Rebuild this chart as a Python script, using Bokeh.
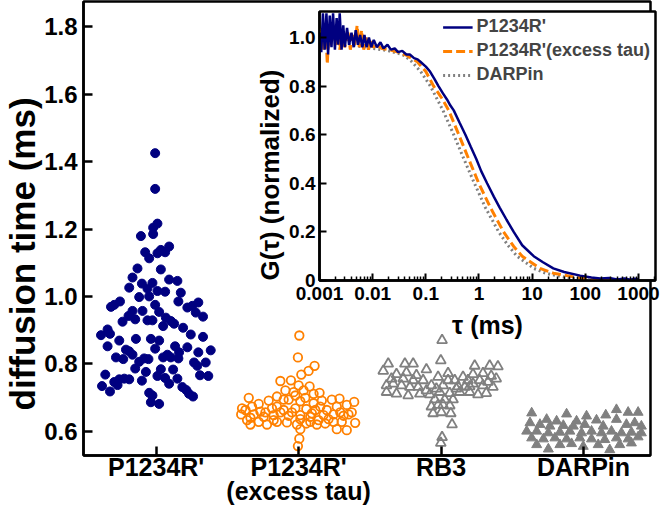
from bokeh.plotting import figure
from bokeh.models import (Range1d, FixedTicker, NumeralTickFormatter, CustomJSTickFormatter,
                          Legend, LegendItem, LinearAxis, Title)
from bokeh.embed import file_html
from bokeh.resources import INLINE

FONT = "Liberation Sans"
NAVY = "#000080"
ORANGE = "#ff8000"
GRAY = "#808080"

# ---------------- main chart data ----------------
categories = ["P1234R'", "P1234R'", "RB3", "DARPin"]
category_notes = ["", "(excess tau)", "", ""]

p1234_offset = [-0.007, -0.007, 0.009, -0.021, -0.021, -0.107, -0.077, -0.049, 0.009, 0.033, 0.063, 0.091,
                -0.131, 0.033, -0.166, 0.091, 0.149, -0.100, -0.026, -0.189, -0.061, 0.009, 0.063, 0.173,
                -0.119, -0.049, 0.156, 0.296, -0.254, -0.294, -0.317, -0.007, 0.219, 0.254, -0.166, -0.096,
                0.021, 0.278, 0.329, -0.194, -0.147, -0.061, -0.026, -0.236, 0.068, 0.103, 0.126, 0.049,
                0.189, -0.341, -0.387, -0.324, 0.243, 0.329, -0.259, -0.142, -0.037, 0.021, -0.341, 0.133,
                0.219, -0.007, -0.189, 0.383, -0.212, 0.161, 0.296, -0.166, 0.079, 0.049, 0.103, -0.282,
                -0.231, -0.084, -0.054, -0.119, 0.156, 0.266, 0.348, -0.147, -0.072, 0.033, 0.119, 0.289,
                0.308, 0.366, -0.357, 0.009, 0.063, 0.149, -0.259, -0.224, -0.189, -0.100, -0.294, 0.091,
                -0.380, -0.271, 0.184, -0.324, 0.212, -0.049, 0.231, 0.259, -0.026, -0.037, 0.021]
p1234_time = [1.425, 1.319, 1.216, 1.204, 1.185, 1.179, 1.131, 1.113, 1.128, 1.138, 1.131, 1.148,
              1.083, 1.080, 1.056, 1.050, 1.046, 1.038, 1.040, 1.026, 1.023, 1.016, 1.014, 1.011,
              0.998, 1.000, 0.985, 0.982, 0.985, 0.975, 0.969, 0.975, 0.967, 0.972, 0.957, 0.957,
              0.954, 0.952, 0.940, 0.942, 0.932, 0.929, 0.929, 0.925, 0.937, 0.927, 0.919, 0.912,
              0.907, 0.902, 0.885, 0.889, 0.887, 0.880, 0.869, 0.874, 0.874, 0.869, 0.852, 0.852,
              0.849, 0.845, 0.837, 0.840, 0.842, 0.834, 0.834, 0.827, 0.827, 0.819, 0.819, 0.819,
              0.814, 0.816, 0.814, 0.806, 0.816, 0.804, 0.804, 0.786, 0.776, 0.784, 0.783, 0.794,
              0.766, 0.764, 0.768, 0.764, 0.758, 0.756, 0.754, 0.756, 0.754, 0.750, 0.746, 0.741,
              0.734, 0.737, 0.731, 0.718, 0.722, 0.714, 0.711, 0.703, 0.706, 0.686, 0.681]

excess_offset = [0.005, -0.005, 0.112, 0.070, 0.019, -0.128, -0.054, 0.000, 0.077, 0.147, -0.152, -0.093,
                 -0.035, 0.035, 0.105, -0.350, -0.210, -0.280, -0.070, 0.012, 0.163, 0.233, 0.287, 0.390,
                 -0.397, -0.327, -0.152, -0.105, -0.023, 0.054, 0.117, 0.198, 0.268, 0.338, -0.403, -0.315,
                 -0.233, -0.175, -0.070, 0.012, 0.082, 0.175, 0.245, 0.315, 0.373, -0.362, -0.280, -0.222,
                 -0.152, -0.082, -0.012, 0.054, 0.128, 0.187, 0.245, 0.303, 0.397, -0.338, 0.268, 0.338,
                 0.012, 0.005, -0.005, -0.105, -0.023, 0.047, 0.105, 0.152, -0.187, -0.268, -0.373, -0.128,
                 -0.047, 0.012, 0.093, 0.140, 0.210, 0.292, 0.350, -0.245, -0.338, -0.175, 0.082]
excess_time = [0.884, 0.819, 0.794, 0.779, 0.768, 0.749, 0.751, 0.736, 0.733, 0.714, 0.703, 0.721,
               0.716, 0.721, 0.711, 0.699, 0.691, 0.681, 0.694, 0.689, 0.691, 0.694, 0.697, 0.687,
               0.668, 0.673, 0.673, 0.663, 0.668, 0.666, 0.663, 0.663, 0.673, 0.678, 0.650, 0.650,
               0.656, 0.648, 0.646, 0.648, 0.643, 0.648, 0.650, 0.646, 0.656, 0.633, 0.628, 0.620,
               0.628, 0.626, 0.620, 0.623, 0.620, 0.623, 0.628, 0.628, 0.625, 0.620, 0.606, 0.603,
               0.606, 0.578, 0.556, 0.694, 0.706, 0.699, 0.683, 0.673, 0.668, 0.658, 0.663, 0.656,
               0.656, 0.636, 0.653, 0.633, 0.636, 0.656, 0.650, 0.643, 0.640, 0.633, 0.628]

rb3_offset = [0.007, -0.002, -0.371, -0.254, -0.196, -0.313, -0.243, -0.173, -0.103, -0.406, -0.348, 0.236,
              0.341, 0.399, 0.294, 0.224, 0.154, 0.352, 0.387, 0.049, -0.021, -0.126, 0.096, 0.189,
              0.271, 0.329, -0.383, -0.278, -0.219, -0.161, -0.068, 0.014, 0.119, 0.201, 0.294, 0.364,
              -0.383, -0.313, -0.231, -0.149, -0.079, -0.009, 0.061, 0.131, 0.201, 0.259, 0.317, -0.044,
              0.026, 0.084, -0.068, 0.014, 0.061, -0.056, 0.002, 0.068, 0.077, 0.007, -0.002, -0.103,
              -0.033, 0.107, 0.166, -0.196, -0.266, -0.336, 0.224, 0.049, -0.021]
rb3_time = [0.870, 0.810, 0.800, 0.800, 0.800, 0.769, 0.774, 0.766, 0.783, 0.779, 0.756, 0.794,
            0.794, 0.792, 0.772, 0.769, 0.761, 0.764, 0.756, 0.772, 0.761, 0.751, 0.751, 0.751,
            0.751, 0.746, 0.736, 0.736, 0.731, 0.731, 0.736, 0.736, 0.733, 0.733, 0.736, 0.731,
            0.716, 0.711, 0.706, 0.711, 0.709, 0.716, 0.713, 0.716, 0.716, 0.709, 0.713, 0.694,
            0.694, 0.694, 0.673, 0.678, 0.676, 0.653, 0.656, 0.653, 0.620, 0.582, 0.565, 0.721,
            0.726, 0.726, 0.731, 0.751, 0.756, 0.741, 0.741, 0.751, 0.678]

darpin_offset = [0.231, -0.364, -0.119, 0.021, 0.156, 0.313, 0.383, -0.259, -0.189, -0.049, 0.091, 0.231,
                 -0.376, -0.306, -0.236, -0.142, -0.072, 0.009, 0.138, 0.301, 0.359, 0.406, -0.399, -0.329,
                 -0.247, -0.166, -0.096, -0.014, 0.056, 0.126, 0.196, 0.266, 0.336, 0.406, -0.364, -0.282,
                 -0.201, -0.119, -0.026, 0.056, 0.149, 0.231, 0.313, 0.383, -0.329, -0.247, -0.166, -0.084,
                 -0.002, 0.103, 0.184, 0.254, 0.336]
darpin_time = [0.664, 0.654, 0.651, 0.645, 0.648, 0.656, 0.656, 0.635, 0.630, 0.630, 0.633, 0.635,
               0.625, 0.620, 0.615, 0.617, 0.615, 0.620, 0.615, 0.620, 0.625, 0.615, 0.600, 0.600,
               0.595, 0.597, 0.600, 0.595, 0.600, 0.595, 0.600, 0.595, 0.597, 0.595, 0.580, 0.577,
               0.580, 0.577, 0.580, 0.577, 0.575, 0.580, 0.577, 0.583, 0.560, 0.547, 0.560, 0.563,
               0.555, 0.560, 0.545, 0.560, 0.565]

# ---------------- inset data (tau in ms, normalized G) ----------------
tau_p1234 = [0.001, 0.00108, 0.00116, 0.00125, 0.00135, 0.00145, 0.00156, 0.00168, 0.0018, 0.00195,
             0.0021, 0.00225, 0.0024, 0.0026, 0.0028, 0.003, 0.0033, 0.0036, 0.004, 0.0044, 0.0048,
             0.0053, 0.0058, 0.0064, 0.007, 0.0077, 0.0085, 0.0094, 0.0105, 0.012, 0.014, 0.016,
             0.019, 0.022, 0.026, 0.03, 0.036, 0.043, 0.05, 0.06, 0.07, 0.079, 0.1, 0.12, 0.145,
             0.173, 0.21, 0.25, 0.29, 0.335, 0.43, 0.555, 0.7, 0.89, 1.1, 1.42, 1.9, 2.45, 3.3, 4.5,
             6.5, 10.7, 16, 25, 40, 80, 130, 190, 280, 400, 550, 700, 850, 1000]
g_p1234 = [1.02, 0.94, 1.10, 0.95, 1.10, 0.93, 1.09, 0.96, 1.10, 0.95,
           1.08, 0.97, 1.10, 0.95, 1.05, 0.96, 1.04, 0.97, 1.02, 0.96, 1.03,
           0.97, 1.01, 0.96, 1.01, 0.96, 1.00, 0.96, 0.99, 0.96, 0.98, 0.955,
           0.97, 0.95, 0.955, 0.94, 0.945, 0.93, 0.93, 0.915, 0.91, 0.90, 0.88, 0.86, 0.83,
           0.80, 0.77, 0.745, 0.72, 0.70, 0.65, 0.60, 0.55, 0.50, 0.45, 0.40, 0.345, 0.30, 0.25, 0.20,
           0.145, 0.10, 0.075, 0.05, 0.035, 0.02, 0.012, 0.008, 0.010, 0.004, 0.008, 0.003, 0.007, 0.005]

tau_excess = [0.001, 0.0011, 0.0012, 0.0013, 0.0014, 0.0015, 0.0016, 0.0018, 0.002, 0.0022, 0.0024,
              0.0027, 0.003, 0.0034, 0.0038, 0.0042, 0.0046, 0.0051, 0.0056, 0.0062, 0.0068, 0.0075,
              0.0083, 0.0092, 0.0102, 0.012, 0.015, 0.02, 0.03, 0.045, 0.069, 0.1, 0.14, 0.2, 0.27,
              0.417, 0.64, 0.99, 1.64, 2.9, 4.5, 6.5, 14, 25, 45, 80, 120, 200, 300, 500, 1000]
g_excess = [0.99, 1.04, 0.95, 1.06, 0.89, 1.03, 0.96, 1.05, 0.97, 1.04, 0.95,
            1.02, 0.96, 1.03, 0.95, 1.01, 0.97, 1.05, 0.96, 1.03, 0.95, 1.00,
            0.95, 0.99, 0.96, 0.97, 0.955, 0.95, 0.94, 0.925, 0.90, 0.86, 0.80, 0.75, 0.70,
            0.60, 0.50, 0.40, 0.30, 0.20, 0.14, 0.10, 0.05, 0.03, 0.02, 0.01, 0.006, 0.003, 0.002, 0.002, 0.001]

tau_darpin = [0.001, 0.0015, 0.002, 0.003, 0.004, 0.005, 0.007, 0.01, 0.015, 0.02, 0.03, 0.04, 0.055,
              0.08, 0.122, 0.16, 0.21, 0.335, 0.52, 0.82, 1.32, 2.35, 3.5, 5.2, 10.7, 18, 29, 50, 80,
              150, 300, 600, 1000]
g_darpin = [0.98, 0.99, 0.985, 0.975, 0.97, 0.965, 0.96, 0.955, 0.95, 0.945, 0.935, 0.925, 0.90,
            0.86, 0.80, 0.75, 0.70, 0.60, 0.50, 0.40, 0.30, 0.20, 0.145, 0.10, 0.05, 0.03, 0.02, 0.01, 0.005,
            0.002, 0.001, 0.0, 0.0]

y_ticks_main = [0.6, 0.8, 1.0, 1.2, 1.4, 1.6, 1.8]
inset_x_ticks = [0.001, 0.01, 0.1, 1, 10, 100, 1000]
inset_y_ticks = [0, 0.2, 0.4, 0.6, 0.8, 1.0]

# ---------------- main figure ----------------
p = figure(width=654, height=507, output_backend="svg", toolbar_location=None,
           x_range=Range1d(0.49, 4.47), y_range=Range1d(0.528, 1.875),
           min_border_left=81, min_border_right=4, min_border_top=1, min_border_bottom=50)
p.grid.visible = False
p.outline_line_color = "black"
p.outline_line_width = 2.5
p.outline_line_alpha = 1.0
p.background_fill_color = "white"
p.border_fill_color = "white"


def xs(idx, offsets):
    return [idx + 1 + o for o in offsets]


p.scatter(xs(0, p1234_offset), p1234_time, marker="circle", size=9,
          fill_color=NAVY, line_color=NAVY)
p.scatter(xs(1, excess_offset), excess_time, marker="circle", size=8.5,
          fill_color=None, line_color=ORANGE, line_width=1.8)
p.scatter(xs(2, rb3_offset), rb3_time, marker="triangle", size=10,
          fill_color=None, line_color=GRAY, line_width=1.8)
p.scatter(xs(3, darpin_offset), darpin_time, marker="triangle", size=10,
          fill_color=GRAY, line_color=GRAY)

xa = p.xaxis[0]
xa.ticker = FixedTicker(ticks=[1, 2, 3, 4], minor_ticks=[])
xa.major_label_overrides = {i + 1: c for i, c in enumerate(categories)}
xa.axis_label = None
xa.axis_label_standoff = 0
ya = p.yaxis[0]
ya.ticker = FixedTicker(ticks=y_ticks_main, minor_ticks=[])
ya.formatter = NumeralTickFormatter(format="0.0")
ya.axis_label = None
ya.axis_label_standoff = 0

note_ticks = [i + 1 for i, n in enumerate(category_notes) if n]
xa2 = LinearAxis(ticker=FixedTicker(ticks=note_ticks, minor_ticks=[]),
                 major_label_overrides={i + 1: n for i, n in enumerate(category_notes) if n},
                 axis_label=None, axis_label_standoff=0, axis_line_width=0,
                 axis_line_color=None, major_tick_line_color=None, minor_tick_line_color=None,
                 major_tick_in=0, major_tick_out=0, minor_tick_in=0, minor_tick_out=0)
p.add_layout(xa2, "below")

for ax in (xa, ya, xa2):
    ax.major_label_text_font = FONT
    ax.major_label_text_font_style = "bold"
    ax.major_label_text_color = "black"
for ax in (xa, ya):
    ax.axis_line_width = 2.5
    ax.axis_line_color = "black"
    ax.major_tick_line_width = 2.5
    ax.major_tick_in = 9
    ax.major_tick_out = 0
    ax.minor_tick_line_color = None

xa.major_label_text_font_size = "25px"
xa.major_label_standoff = -3
xa2.major_label_text_font_size = "25px"
xa2.major_label_standoff = -7
ya.major_label_text_font_size = "24px"
ya.major_label_standoff = 6

p.add_layout(Title(text="diffusion time (ms)", align="left", offset=45, standoff=0,
                   text_font=FONT, text_font_style="bold", text_font_size="35px",
                   text_color="black"), "left")

# ---------------- inset figure ----------------
inset = figure(width=415, height=334, output_backend="svg", toolbar_location=None,
               x_axis_type="log", x_range=Range1d(0.001, 2090), y_range=Range1d(0, 1.107),
               min_border_left=71, min_border_right=8, min_border_top=2, min_border_bottom=63,
               styles={"position": "absolute", "left": "248px", "top": "9px"})
inset.grid.visible = False
inset.outline_line_color = "black"
inset.outline_line_width = 2.5
inset.outline_line_alpha = 1.0
inset.background_fill_color = "white"
inset.border_fill_color = None

r_dar = inset.line(tau_darpin, g_darpin, line_color=GRAY, line_width=3, line_dash="2 3")
r_exc = inset.line(tau_excess, g_excess, line_color=ORANGE, line_width=3, line_dash="9 4")
r_p = inset.line(tau_p1234, g_p1234, line_color=NAVY, line_width=2.5)

ixa = inset.xaxis[0]
ixa.ticker = FixedTicker(ticks=inset_x_ticks,
                         minor_ticks=[k * 10.0 ** e for e in range(-3, 4) for k in range(2, 10)])
ixa.formatter = CustomJSTickFormatter(code="return String(Number(tick.toPrecision(1)));")
ixa.axis_label = "τ (ms)"
iya = inset.yaxis[0]
iya.ticker = FixedTicker(ticks=inset_y_ticks, minor_ticks=[])
iya.formatter = NumeralTickFormatter(format="0.0")
iya.major_label_overrides = {0: "0"}
iya.axis_label = None
iya.axis_label_standoff = 0

for ax in (ixa, iya):
    ax.axis_line_width = 2.5
    ax.major_tick_line_width = 2
    ax.major_tick_in = 7
    ax.major_tick_out = 0
    ax.minor_tick_line_width = 1.5
    ax.minor_tick_in = 4
    ax.minor_tick_out = 0
    ax.major_label_text_font = FONT
    ax.major_label_text_font_style = "bold"
    ax.major_label_text_font_size = "19px"
    ax.major_label_text_color = "black"
    ax.axis_label_text_font = FONT
    ax.axis_label_text_font_style = "bold"
    ax.axis_label_text_color = "black"
iya.minor_tick_line_color = None
ixa.major_label_standoff = 6
ixa.axis_label_text_font_size = "25px"
ixa.axis_label_standoff = 8
iya.major_label_standoff = 4

inset.add_layout(Title(text="G(τ) (normalized)", align="left", offset=0, standoff=4,
                       text_font=FONT, text_font_style="bold", text_font_size="26px",
                       text_color="black"), "left")

legend = Legend(items=[LegendItem(label="P1234R'", renderers=[r_p]),
                       LegendItem(label="P1234R'(excess tau)", renderers=[r_exc]),
                       LegendItem(label="DARPin", renderers=[r_dar])],
                location="top_right")
legend.label_text_font = FONT
legend.label_text_font_style = "bold"
legend.label_text_font_size = "18px"
legend.glyph_width = 30
legend.glyph_height = 20
legend.label_height = 20
legend.label_standoff = 4
legend.spacing = 3
legend.padding = 2
legend.margin = 5
legend.border_line_color = None
legend.background_fill_alpha = 0
inset.add_layout(legend)

open("out.html", "w").write(file_html([p, inset], INLINE))
